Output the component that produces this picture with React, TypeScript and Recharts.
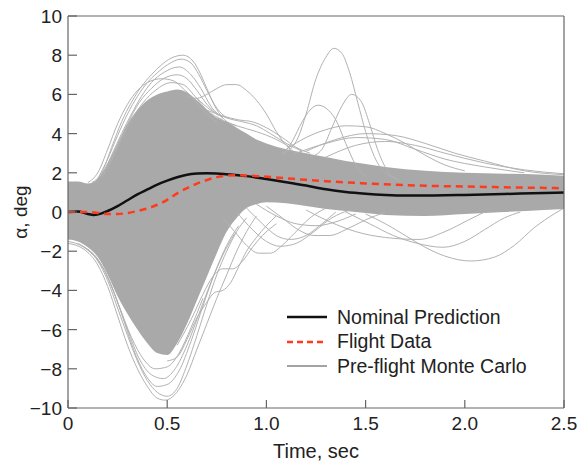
import React from "react";
import { ComposedChart, Area, Line, XAxis, YAxis, Legend } from "recharts";

const FONT = "'Liberation Sans', Arial, Helvetica, sans-serif";
const AXIS = "#666";
const MC_GRAY = "#b2b2b2";

const timeTicks = [0, 0.5, 1, 1.5, 2, 2.5];
const alphaTicks = [10, 8, 6, 4, 2, 0, -2, -4, -6, -8, -10];
const legendLabels = ["Nominal Prediction", "Flight Data", "Pre-flight Monte Carlo"];

// dense part of the Monte Carlo cloud
const bandTime = [0, 0.05, 0.1, 0.15, 0.2, 0.25, 0.3, 0.35, 0.4, 0.45, 0.5, 0.55, 0.6, 0.65, 0.7, 0.75, 0.8, 0.85, 0.9, 0.95, 1.0, 1.1, 1.2, 1.3, 1.4, 1.5, 1.6, 1.8, 2.0, 2.2, 2.4, 2.5];
const bandHigh = [1.55, 1.55, 1.45, 1.7, 2.5, 3.5, 4.5, 5.2, 5.7, 6.0, 6.15, 6.25, 6.1, 5.7, 5.2, 4.8, 4.6, 4.3, 4.0, 3.7, 3.5, 3.2, 3.0, 2.8, 2.6, 2.45, 2.3, 2.1, 2.0, 1.95, 1.9, 1.85];
const bandLow = [-1.4, -1.5, -1.8, -2.3, -3.2, -4.3, -5.2, -6.0, -6.7, -7.2, -7.3, -6.7, -5.7, -4.5, -3.3, -2.1, -1.0, -0.3, 0.2, 0.4, 0.5, 0.45, 0.3, 0.15, 0.05, -0.05, -0.15, -0.2, -0.1, 0.0, 0.1, 0.15];

const nominal = [[0, 0], [0.05, 0.02], [0.1, -0.1], [0.13, -0.15], [0.17, -0.07], [0.2, 0.05], [0.25, 0.3], [0.3, 0.6], [0.35, 0.9], [0.4, 1.15], [0.45, 1.4], [0.5, 1.6], [0.55, 1.77], [0.6, 1.9], [0.65, 1.96], [0.7, 1.98], [0.75, 1.97], [0.8, 1.93], [0.9, 1.83], [1.0, 1.68], [1.1, 1.52], [1.2, 1.35], [1.3, 1.16], [1.4, 1.02], [1.5, 0.93], [1.6, 0.87], [1.7, 0.84], [1.8, 0.84], [1.9, 0.85], [2.0, 0.87], [2.2, 0.92], [2.4, 0.97], [2.5, 1.0]];
const flight = [[0, 0], [0.1, 0], [0.15, -0.05], [0.2, -0.1], [0.25, -0.1], [0.3, -0.05], [0.35, 0.05], [0.4, 0.18], [0.45, 0.37], [0.5, 0.62], [0.55, 0.95], [0.6, 1.22], [0.65, 1.45], [0.7, 1.63], [0.75, 1.78], [0.8, 1.86], [0.85, 1.88], [0.9, 1.86], [1.0, 1.8], [1.1, 1.72], [1.2, 1.64], [1.3, 1.57], [1.4, 1.51], [1.5, 1.46], [1.6, 1.41], [1.7, 1.37], [1.8, 1.34], [2.0, 1.3], [2.2, 1.26], [2.4, 1.23], [2.5, 1.21]];

// individual Monte Carlo runs outside the dense cloud
const hump1 = [[0.12, 1.5], [0.17, 2.0], [0.22, 3.3], [0.27, 4.6], [0.32, 5.6], [0.37, 6.4], [0.42, 7.0], [0.47, 7.5], [0.52, 7.85], [0.58, 8.0], [0.63, 7.7], [0.67, 7.0], [0.7, 6.3], [0.74, 5.4], [0.78, 4.8], [0.85, 4.4]];
const hump2 = [[0.15, 1.7], [0.2, 2.7], [0.25, 3.9], [0.3, 5.0], [0.35, 5.9], [0.4, 6.6], [0.45, 7.1], [0.5, 7.5], [0.57, 7.8], [0.62, 7.6], [0.66, 7.0], [0.7, 6.2], [0.75, 5.3], [0.8, 4.8]];
const hump3 = [[0.17, 1.8], [0.22, 2.9], [0.27, 4.0], [0.32, 5.0], [0.37, 5.9], [0.42, 6.6], [0.48, 7.1], [0.56, 7.4], [0.62, 7.0], [0.67, 6.3], [0.72, 5.4], [0.78, 4.8]];
const hump4 = [[0.18, 1.9], [0.24, 3.2], [0.3, 4.5], [0.36, 5.6], [0.42, 6.3], [0.48, 6.8], [0.55, 7.0], [0.6, 6.8], [0.65, 6.2], [0.7, 5.5], [0.76, 4.9]];
const hump5 = [[0.1, 1.5], [0.15, 2.0], [0.2, 3.2], [0.25, 4.5], [0.3, 5.5], [0.35, 6.2], [0.4, 6.6], [0.47, 6.8], [0.53, 6.7], [0.58, 6.3], [0.63, 5.8], [0.68, 5.2], [0.75, 4.6]];
const hump6 = [[0.2, 2.2], [0.26, 3.5], [0.32, 4.7], [0.38, 5.6], [0.44, 6.2], [0.52, 6.6], [0.58, 6.5], [0.64, 5.9], [0.7, 5.2], [0.78, 4.7]];
const lateHump = [[0.6, 5.9], [0.65, 5.8], [0.7, 6.0], [0.75, 6.3], [0.8, 6.5], [0.85, 6.5], [0.9, 6.2], [0.95, 5.7], [1.0, 5.0], [1.05, 4.1], [1.1, 3.4], [1.15, 3.0]];
const decay1 = [[0.65, 5.8], [0.72, 5.2], [0.8, 4.8], [0.88, 4.6], [0.95, 4.4], [1.02, 4.0], [1.1, 3.5], [1.18, 3.1]];
const decay2 = [[0.7, 5.2], [0.78, 4.9], [0.86, 4.7], [0.93, 4.6], [1.0, 4.3], [1.08, 3.8], [1.15, 3.3], [1.22, 3.0]];
const decay3 = [[0.75, 4.8], [0.85, 4.4], [0.95, 4.1], [1.05, 3.7], [1.12, 3.3]];
const spike1 = [[1.08, 3.0], [1.12, 3.2], [1.16, 3.8], [1.2, 5.0], [1.25, 6.8], [1.3, 7.9], [1.34, 8.35], [1.38, 8.1], [1.42, 7.1], [1.46, 5.6], [1.5, 4.1], [1.55, 2.7], [1.6, 2.0], [1.66, 1.7]];
const spike2 = [[1.22, 2.8], [1.28, 3.2], [1.33, 4.3], [1.38, 5.4], [1.43, 6.0], [1.48, 5.6], [1.52, 4.5], [1.56, 3.2], [1.61, 2.1], [1.67, 1.6]];
const spike3 = [[1.08, 2.9], [1.13, 3.6], [1.18, 4.6], [1.22, 5.2], [1.26, 5.45], [1.3, 5.3], [1.35, 4.7], [1.4, 3.5], [1.45, 2.4], [1.5, 1.8]];
const arc1 = [[1.1, 3.2], [1.2, 3.8], [1.3, 4.2], [1.4, 4.4], [1.5, 4.35], [1.6, 4.0], [1.7, 3.5], [1.8, 2.9], [1.9, 2.4], [2.0, 2.1]];
const arc2 = [[1.2, 3.1], [1.35, 3.7], [1.5, 4.0], [1.65, 3.9], [1.8, 3.5], [1.95, 3.0], [2.1, 2.6], [2.3, 2.1], [2.5, 1.9]];
const arc3 = [[1.15, 3.0], [1.3, 3.5], [1.45, 3.8], [1.6, 3.7], [1.75, 3.2], [1.9, 2.7], [2.1, 2.3], [2.3, 2.0]];
const arc4 = [[1.3, 2.8], [1.45, 3.4], [1.6, 3.6], [1.75, 3.4], [1.9, 3.0], [2.1, 2.5], [2.3, 2.15], [2.5, 1.95]];
const dip1 = [[0, -1.6], [0.08, -1.9], [0.15, -2.7], [0.2, -3.8], [0.25, -5.3], [0.3, -6.8], [0.35, -8.0], [0.4, -8.9], [0.45, -9.5], [0.49, -9.6], [0.54, -9.3], [0.6, -8.3], [0.65, -7.0], [0.7, -5.7], [0.75, -4.4], [0.8, -3.2], [0.85, -2.0], [0.9, -1.0], [0.95, -0.2]];
const dip2 = [[0, -1.5], [0.08, -1.8], [0.15, -2.5], [0.2, -3.5], [0.25, -4.9], [0.3, -6.3], [0.35, -7.6], [0.4, -8.6], [0.45, -9.2], [0.5, -9.4], [0.55, -9.0], [0.6, -7.8], [0.65, -6.3], [0.7, -4.7], [0.75, -3.2], [0.8, -2.0], [0.85, -1.0], [0.9, -0.3]];
const dip3 = [[0.05, -1.6], [0.12, -2.1], [0.2, -3.3], [0.27, -5.2], [0.33, -7.0], [0.39, -8.3], [0.45, -8.9], [0.5, -8.8], [0.56, -8.1], [0.62, -6.6], [0.68, -4.8], [0.74, -3.1], [0.8, -1.7], [0.86, -0.7]];
const dip4 = [[0.08, -1.8], [0.15, -2.4], [0.22, -3.8], [0.3, -6.0], [0.36, -7.5], [0.42, -8.3], [0.48, -8.5], [0.54, -8.0], [0.6, -6.8], [0.66, -5.2], [0.72, -3.6], [0.78, -2.2], [0.84, -1.1]];
const dip5 = [[0.1, -1.9], [0.18, -2.9], [0.25, -4.6], [0.32, -6.4], [0.38, -7.5], [0.44, -8.0], [0.5, -7.9], [0.56, -7.2], [0.62, -5.9], [0.68, -4.4]];
const loop1 = [[0.5, -7.6], [0.55, -7.4], [0.6, -6.5], [0.65, -5.4], [0.7, -4.6], [0.74, -4.1], [0.78, -4.0], [0.82, -3.6], [0.86, -2.8], [0.9, -2.0], [0.95, -1.3], [1.0, -0.7], [1.05, -0.2]];
const loop2 = [[0.55, -6.8], [0.62, -5.5], [0.68, -4.2], [0.73, -3.3], [0.78, -2.9], [0.83, -2.9], [0.88, -2.5], [0.93, -1.8], [0.98, -1.2], [1.05, -0.6]];
const low1 = [[0.78, -0.3], [0.84, -1.0], [0.9, -1.7], [0.96, -2.1], [1.02, -2.1], [1.08, -1.7], [1.14, -1.1], [1.22, -0.3], [1.3, 0.2]];
const low2 = [[0.85, 0.0], [0.93, -0.9], [1.0, -1.5], [1.07, -1.75], [1.15, -1.6], [1.24, -1.0], [1.33, -0.3], [1.42, 0.1]];
const low3 = [[1.0, 0.3], [1.08, -0.3], [1.16, -0.9], [1.24, -1.2], [1.32, -1.2], [1.4, -0.9], [1.5, -0.4], [1.6, 0.0]];
const low4 = [[1.4, 0.0], [1.52, -0.6], [1.64, -1.2], [1.76, -1.6], [1.89, -1.8], [2.0, -1.5], [2.1, -0.9], [2.2, -0.3], [2.28, 0.0]];
const low5 = [[1.5, -0.1], [1.6, -0.6], [1.7, -1.2], [1.8, -1.8], [1.9, -2.25], [2.03, -2.5], [2.15, -2.3], [2.25, -1.7], [2.35, -0.8], [2.45, -0.1], [2.5, 0.2]];
const low6 = [[1.2, 0.1], [1.32, -0.5], [1.45, -1.0], [1.6, -1.3], [1.77, -1.4], [1.9, -1.0], [2.02, -0.4], [2.1, 0.0]];
const low7 = [[0.95, 0.4], [1.05, -0.2], [1.15, -0.6], [1.25, -0.7], [1.35, -0.5], [1.45, -0.1]];
const low8 = [[0.9, 0.2], [0.98, -0.6], [1.05, -1.2], [1.12, -1.4], [1.2, -1.2], [1.28, -0.6], [1.35, 0.0]];

const monteCarloRuns = [
  hump1, hump2, hump3, hump4, hump5, hump6, lateHump, decay1, decay2, decay3,
  spike1, spike2, spike3, arc1, arc2, arc3, arc4,
  dip1, dip2, dip3, dip4, dip5, loop1, loop2,
  low1, low2, low3, low4, low5, low6, low7, low8,
];

const toRows = (pts) => pts.map(([t, a]) => ({ t, a }));
const bandRows = bandTime.map((t, i) => ({ t, band: [bandLow[i], bandHigh[i]] }));

const fmtTime = (v) => (v === 0 ? "0" : v.toFixed(1));
const fmtAlpha = (v) => (v < 0 ? "\u2212" + Math.abs(v) : String(v));

const BottomTick = ({ x, y, payload }) => (
  <g>
    <line x1={x} x2={x} y1={y} y2={y - 8} stroke={AXIS} strokeWidth={1.2} />
    <text x={x} y={y + 22} textAnchor="middle" fontSize={19} fill="#222" fontFamily={FONT}>
      {fmtTime(payload.value)}
    </text>
  </g>
);
const LeftTick = ({ x, y, payload }) => (
  <g>
    <line x1={x} x2={x + 9} y1={y} y2={y} stroke={AXIS} strokeWidth={1.2} />
    <text x={x - 6} y={y + 7} textAnchor="end" fontSize={19} fill="#222" fontFamily={FONT}>
      {fmtAlpha(payload.value)}
    </text>
  </g>
);
const TopTick = ({ x, y }) => <line x1={x} x2={x} y1={y} y2={y + 8} stroke={AXIS} strokeWidth={1.2} />;
const RightTick = ({ x, y }) => <line x1={x} x2={x - 9} y1={y} y2={y} stroke={AXIS} strokeWidth={1.2} />;

const YTitle = ({ viewBox }) => {
  const cx = viewBox.x + 27;
  const cy = viewBox.y + viewBox.height / 2;
  return (
    <text x={cx} y={cy} transform={`rotate(-90, ${cx}, ${cy})`} textAnchor="middle" fontSize={19} fill="#222" fontFamily={FONT}>
      α, deg
    </text>
  );
};
const XTitle = ({ viewBox }) => (
  <text x={viewBox.x + viewBox.width / 2} y={viewBox.y + 50} textAnchor="middle" fontSize={20} fill="#222" fontFamily={FONT}>
    Time, sec
  </text>
);

const legendStyles = [
  { stroke: "#111", strokeWidth: 2.5, dash: undefined },
  { stroke: "#ff3b1f", strokeWidth: 2.5, dash: "6 4" },
  { stroke: "#a3a3a3", strokeWidth: 2, dash: undefined },
];

const LegendBox = () => (
  <div style={{ fontFamily: FONT, fontSize: 19.5, color: "#222" }}>
    {legendLabels.map((label, i) => (
      <div key={label} style={{ display: "flex", alignItems: "center", height: 24.5, whiteSpace: "nowrap" }}>
        <svg width={40} height={10}>
          <line x1={0} x2={40} y1={5} y2={5} stroke={legendStyles[i].stroke} strokeWidth={legendStyles[i].strokeWidth} strokeDasharray={legendStyles[i].dash} />
        </svg>
        <span style={{ marginLeft: 10 }}>{label}</span>
      </div>
    ))}
  </div>
);

export default function App() {
  return (
    <div style={{ position: "absolute", left: 0, top: 0, background: "#fff" }}>
      <ComposedChart width={585} height={464} margin={{ top: 0, right: 0, bottom: 0, left: 0 }}>
        <XAxis
          dataKey="t" type="number" domain={[0, 2.5]} ticks={timeTicks} interval={0}
          height={56} tickSize={0} tickMargin={0} tick={BottomTick}
          axisLine={{ stroke: AXIS, strokeWidth: 1.2 }} allowDataOverflow label={XTitle}
        />
        <XAxis
          xAxisId="top" orientation="top" dataKey="t" type="number" domain={[0, 2.5]} ticks={timeTicks}
          interval={0} height={16} tickSize={0} tickMargin={0} tick={TopTick}
          axisLine={{ stroke: AXIS, strokeWidth: 1.2 }}
        />
        <YAxis
          type="number" domain={[-10, 10]} ticks={alphaTicks} interval={0} width={68}
          tickSize={0} tickMargin={0} tick={LeftTick}
          axisLine={{ stroke: AXIS, strokeWidth: 1.2 }} allowDataOverflow label={YTitle}
        />
        <YAxis
          yAxisId="right" orientation="right" type="number" domain={[-10, 10]} ticks={alphaTicks}
          interval={0} width={21} tickSize={0} tickMargin={0} tick={RightTick}
          axisLine={{ stroke: AXIS, strokeWidth: 1.2 }}
        />
        <Area
          data={bandRows} dataKey="band" type="monotone" stroke="none" fill="#a9a9a9"
          fillOpacity={1} isAnimationActive={false} legendType="none"
        />
        {monteCarloRuns.map((run, i) => (
          <Line
            key={i} data={toRows(run)} dataKey="a" type="monotone" stroke={MC_GRAY}
            strokeWidth={1} dot={false} isAnimationActive={false} legendType="none"
          />
        ))}
        <Line
          data={toRows(nominal)} dataKey="a" type="monotone" stroke="#111" strokeWidth={2.5}
          dot={false} isAnimationActive={false}
        />
        <Line
          data={toRows(flight)} dataKey="a" type="monotone" stroke="#ff3b1f" strokeWidth={2.5}
          strokeDasharray="7 5" dot={false} isAnimationActive={false}
        />
        <Legend
          layout="vertical" align="center" verticalAlign="middle" content={LegendBox}
          wrapperStyle={{ left: 287, top: 305, width: "auto" }}
        />
      </ComposedChart>
    </div>
  );
}
